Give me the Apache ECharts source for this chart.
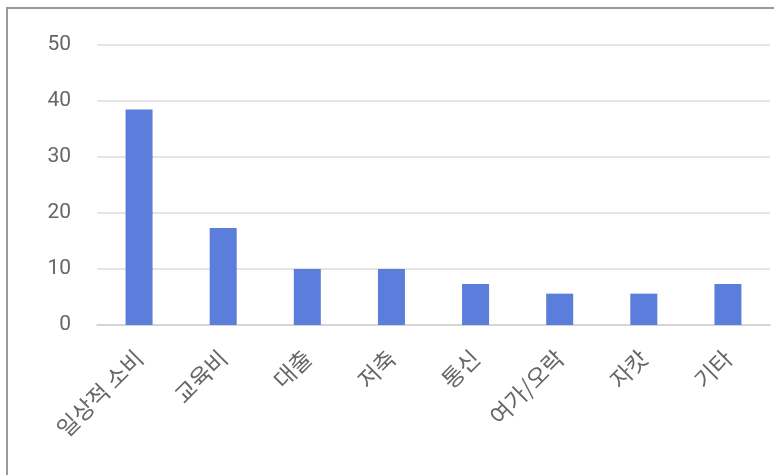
<!DOCTYPE html>
<html>
<head>
<meta charset="utf-8">
<script src="https://cdn.jsdelivr.net/npm/echarts@6/dist/echarts.min.js"></script>
<style>
html,body{margin:0;padding:0;background:#fff;}
#c{width:774px;height:475px;}
</style>
</head>
<body>
<div id="c"></div>
<script>
const categories = ['일상적 소비', '교육비', '대출', '저축', '통신', '여가/오락', '자캇', '기타'];
const values = [38.5, 17.3, 10, 10, 7.3, 5.6, 5.6, 7.3];
const yTicks = [0, 10, 20, 30, 40, 50];

const chart = echarts.init(document.getElementById('c'), null, {renderer: 'canvas'});
chart.setOption({
  animation: false,
  backgroundColor: '#ffffff',
  graphic: [{
    type: 'rect',
    shape: {x: 7, y: 8, width: 820, height: 520},
    style: {fill: 'none', stroke: '#9a9a9a', lineWidth: 2},
    silent: true
  }],
  grid: {left: 97, right: 4, top: 45, bottom: 150},
  xAxis: {
    type: 'category',
    data: categories,
    axisTick: {show: false},
    axisLine: {show: true, lineStyle: {color: '#d0d0d0', width: 1.5}},
    axisLabel: {
      rotate: 45,
      interval: 0,
      margin: 29,
      color: '#666666',
      fontSize: 23,
      fontFamily: '"Noto Sans CJK KR", "Noto Sans", sans-serif'
    }
  },
  yAxis: {
    type: 'value',
    min: yTicks[0],
    max: yTicks[yTicks.length - 1],
    interval: 10,
    axisLine: {show: false},
    axisTick: {show: false},
    splitLine: {lineStyle: {color: '#dcdcdc', width: 1.5}},
    axisLabel: {
      margin: 26,
      color: '#666666',
      fontSize: 21,
      fontFamily: 'Roboto, "Noto Sans", sans-serif'
    }
  },
  series: [{
    type: 'bar',
    data: values,
    barWidth: 27,
    itemStyle: {color: '#5b7ddb'}
  }]
});
</script>
</body>
</html>
